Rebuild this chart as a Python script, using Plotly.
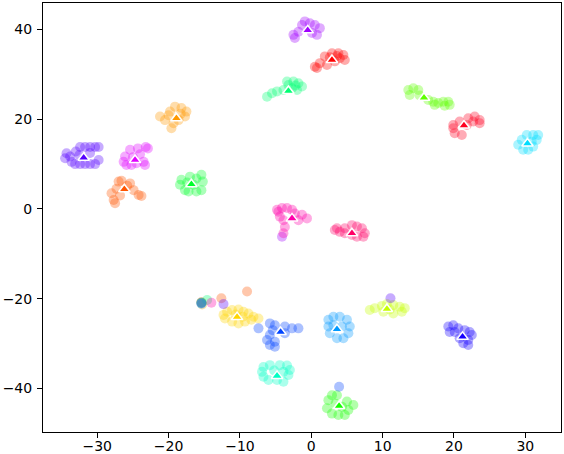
import plotly.graph_objects as go

# class names and colours
classes = ["red_top", "coral", "orange", "yellow", "yellowgreen", "lime", "green_bottom",
           "green_left", "spring", "turquoise", "cyan", "dodger", "blue", "blue_right",
           "purple", "violet", "magenta", "pink", "crimson", "red_right"]
colors = ["#ff0000", "#ff5500", "#ff9900", "#ffd500", "#c4ff00", "#5eff00", "#15ff00",
          "#00ff2b", "#00ff73", "#00ffc4", "#00ddff", "#0099ff", "#0044ff", "#1500ff",
          "#5500ff", "#a000ff", "#e100ff", "#ff00aa", "#ff0066", "#ff0020"]

# class centres (triangles)
center_x = [2.9, -26.2, -18.9, -10.4, 10.6, 15.8, 3.9, -16.8, -3.2, -4.8, 30.3, 3.6, -4.3, 21.2,
            -31.9, -0.5, -24.7, -2.7, 5.7, 21.4]
center_y = [33.2, 4.4, 20.2, -24.1, -22.3, 24.8, -43.9, 5.5, 26.3, -37.2, 14.6, -26.8, -27.4, -28.5,
            11.4, 39.8, 10.9, -2.1, -5.4, 18.6]

# embedded points per class
points_x = [
    [0.5, 1.2, 1.9, 2.9, 3.8, 4.5, 4.7, 4.0, 3.3, 2.2, 0.8, 2.6, 3.6],
    [-28.0, -27.7, -27.5, -27.0, -26.6, -25.4, -24.9, -24.2, -23.8, -27.3, -26.8, -25.8],
    [-21.2, -20.5, -19.8, -19.1, -18.2, -17.5, -17.7, -19.3, -19.6, -18.6, -20.0, -18.3],
    [-12.3, -11.8, -11.1, -10.2, -9.5, -8.8, -8.1, -7.4, -8.4, -9.3, -10.2, -11.1, -12.1, -10.6, -9.6],
    [8.2, 8.9, 9.9, 10.6, 11.5, 12.4, 13.1, 12.7, 11.5, 10.1, 11.0],
    [13.6, 14.3, 15.0, 13.8, 16.4, 17.1, 17.8, 18.5, 19.2, 19.4, 18.7, 17.3, 15.2],
    [2.4, 2.2, 2.9, 3.8, 4.7, 5.2, 5.9, 5.0, 3.6, 2.9, 4.3, 3.4],
    [-18.2, -18.4, -17.7, -17.0, -16.1, -15.4, -15.2, -15.4, -16.1, -17.2, -16.5, -17.4],
    [-6.2, -5.5, -4.8, -3.9, -3.2, -2.5, -1.8, -1.3, -2.0, -2.7, -3.4, -2.2],
    [-6.9, -6.7, -5.8, -4.4, -3.4, -3.0, -3.2, -3.9, -4.8, -6.0, -6.7, -3.9, -5.2],
    [29.0, 29.7, 30.4, 31.1, 31.6, 31.8, 31.1, 30.2, 29.5, 30.9],
    [2.4, 3.1, 4.0, 5.0, 5.4, 5.2, 4.5, 3.6, 2.6, 2.4, 4.3, 3.1],
    [-5.8, -5.1, -3.7, -2.7, -1.8, -5.8, -6.2, -5.8, -5.1, -5.1, -3.7, -5.4],
    [19.2, 19.9, 20.6, 21.5, 22.2, 22.5, 22.0, 22.0, 21.3, 20.8, 20.1, 19.4],
    [-32.4, -31.7, -31.0, -30.3, -29.8, -34.3, -34.5, -33.8, -33.6, -33.1, -32.4, -31.7, -31.0, -30.3,
     -29.8, -32.5, -31.0, -33.0],
    [-2.3, -2.5, -1.8, -1.3, -0.9, -0.2, 0.5, 1.2, 0.8, 0.1],
    [-25.4, -24.3, -23.2, -22.9, -26.1, -26.3, -25.9, -25.2, -24.5, -23.5, -23.3, -25.0, -24.0],
    [-4.8, -4.1, -3.4, -2.7, -4.4, -3.9, -3.7, -3.9, -1.3, -0.6, -1.8, -2.3, -4.6],
    [3.6, 4.0, 4.7, 5.7, 6.4, 7.1, 7.5, 7.3, 6.4, 5.7, 4.7, 3.3],
    [19.9, 20.1, 21.1, 20.8, 22.0, 22.9, 23.6, 23.6, 22.7, 21.8, 19.9],
]
points_y = [
    [31.7, 32.5, 34.0, 34.7, 34.7, 34.3, 33.2, 33.6, 32.9, 32.1, 31.4, 33.8, 34.1],
    [3.5, 2.0, 1.3, 6.1, 6.3, 5.7, 4.2, 3.1, 2.9, 4.5, 3.0, 5.2],
    [20.6, 19.8, 21.7, 22.8, 22.5, 21.7, 20.6, 19.1, 18.0, 19.8, 20.9, 21.2],
    [-23.6, -22.9, -22.5, -22.4, -22.9, -23.3, -24.0, -24.4, -24.7, -25.1, -25.5, -25.1, -24.4, -23.5, -24.0],
    [-22.5, -22.1, -21.6, -21.2, -21.4, -21.8, -22.1, -22.9, -23.3, -22.9, -22.4],
    [26.5, 26.9, 26.5, 25.4, 24.3, 23.9, 23.6, 23.9, 23.9, 23.2, 23.0, 23.2, 25.3],
    [-42.6, -44.4, -45.6, -45.9, -45.9, -44.8, -43.7, -42.9, -41.5, -41.5, -44.1, -43.4],
    [6.5, 5.4, 4.2, 7.2, 6.8, 7.6, 6.1, 4.2, 3.9, 3.9, 5.4, 5.9],
    [25.0, 25.8, 26.2, 26.5, 27.6, 28.4, 28.0, 27.3, 26.5, 26.9, 28.4, 27.5],
    [-36.3, -35.2, -34.8, -34.8, -34.9, -35.9, -37.0, -38.5, -38.1, -38.1, -37.4, -36.3, -36.0],
    [14.3, 13.2, 13.2, 13.9, 15.4, 16.5, 16.5, 16.5, 15.4, 15.0],
    [-24.7, -24.0, -24.0, -24.7, -26.2, -27.7, -28.8, -28.8, -27.7, -26.2, -26.2, -25.9],
    [-25.5, -25.9, -26.2, -26.6, -26.6, -28.1, -29.2, -30.3, -30.7, -29.6, -27.7, -27.0],
    [-26.2, -25.9, -26.6, -27.0, -27.4, -28.1, -29.2, -30.3, -29.9, -28.8, -27.4, -27.4],
    [13.8, 13.8, 13.8, 13.8, 13.8, 12.4, 11.3, 11.7, 10.5, 10.0, 10.0, 10.0, 10.0, 10.0,
     10.9, 12.0, 12.5, 12.8],
    [38.1, 38.8, 39.5, 41.0, 41.8, 41.4, 41.0, 40.3, 38.8, 39.2],
    [13.2, 13.5, 13.8, 13.5, 11.7, 10.5, 9.8, 9.8, 10.2, 10.5, 9.8, 11.5, 12.2],
    [-0.2, 0.2, 0.2, -0.2, -1.7, -2.5, -4.0, -5.4, -1.3, -2.1, -2.5, -1.0, -0.6],
    [-4.3, -5.1, -4.3, -3.6, -3.9, -4.3, -5.4, -6.2, -6.2, -5.8, -5.4, -4.7],
    [18.0, 16.9, 16.5, 19.5, 20.2, 20.6, 19.8, 19.1, 19.5, 18.7, 18.7],
]

# stray points lying away from their own class
stray_x = [-15.4, -15.4, -15.4, -15.4, -15.4, -15.3, -14.6, -14.0, -12.6, -12.3, -9.0, -7.4, 11.1, 3.9, -4.1]
stray_y = [-20.9, -20.9, -21.0, -20.8, -21.1, -21.3, -20.3, -20.9, -19.9, -21.2, -18.4, -26.6, -19.9, -39.6, -6.2]
stray_cls = [7, 8, 14, 0, 10, 2, 8, 17, 1, 14, 1, 12, 14, 12, 15]

fig = go.Figure()
for i, name in enumerate(classes):
    xs = list(points_x[i]) + [sx for sx, c in zip(stray_x, stray_cls) if c == i]
    ys = list(points_y[i]) + [sy for sy, c in zip(stray_y, stray_cls) if c == i]
    fig.add_trace(go.Scatter(
        x=xs, y=ys, mode="markers", name=name, showlegend=False, hoverinfo="skip",
        marker=dict(size=10, color=colors[i], opacity=0.33, line=dict(width=0)),
    ))

fig.add_trace(go.Scatter(
    x=center_x, y=center_y, mode="markers", showlegend=False,
    marker=dict(symbol="triangle-up", size=10, color=colors,
                line=dict(color="white", width=1.5)),
))

axis_common = dict(
    showgrid=False, zeroline=False, showline=True, mirror=True, automargin=False,
    linecolor="black", linewidth=1, ticks="outside", ticklen=5, tickwidth=1,
    tickcolor="black", tickfont=dict(family="DejaVu Sans", size=14, color="black"),
)
fig.update_xaxes(range=[-37.6, 35.0], tickvals=[-30, -20, -10, 0, 10, 20, 30],
                 ticklabelstandoff=-4, **axis_common)
fig.update_yaxes(range=[-49.7, 45.9], tickvals=[-40, -20, 0, 20, 40],
                 ticklabelstandoff=2, **axis_common)

fig.update_layout(
    width=564, height=454,
    margin=dict(l=43, r=3, t=3, b=22),
    plot_bgcolor="white", paper_bgcolor="white",
)

fig.write_html("out.html", config={"displayModeBar": False})

# remove the default page margin so the figure sits at the window origin
with open("out.html", "r", encoding="utf-8") as f:
    html = f.read()
html = html.replace("<body>", '<body style="margin:0;padding:0;overflow:hidden">', 1)
with open("out.html", "w", encoding="utf-8") as f:
    f.write(html)
